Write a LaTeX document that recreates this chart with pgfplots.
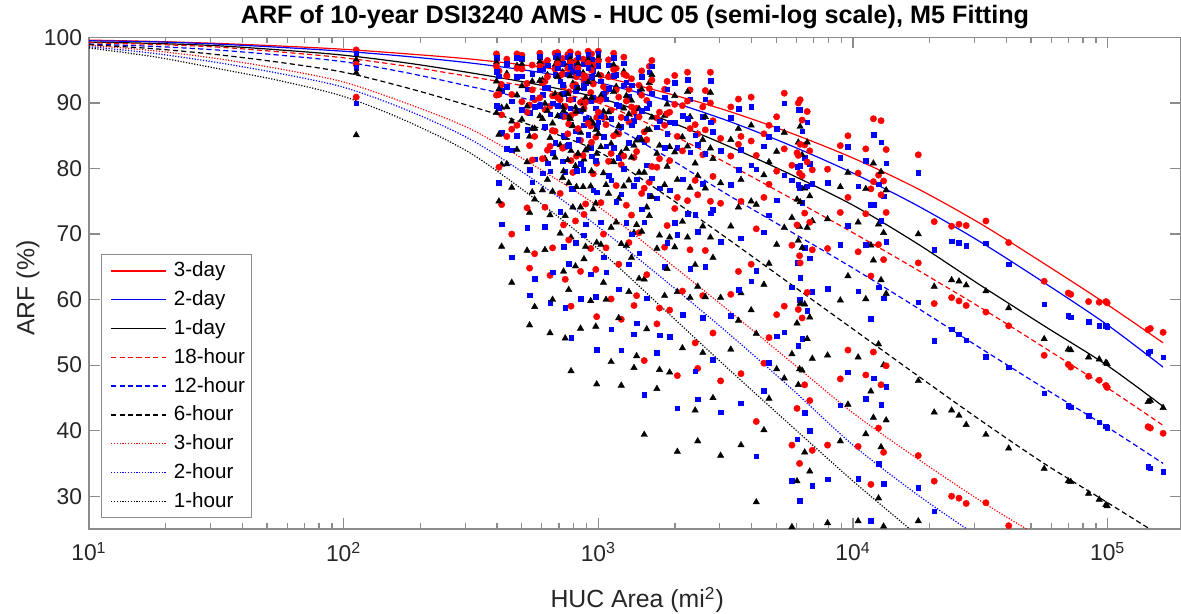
\documentclass[border=0pt]{standalone}
\usepackage{fontspec}
\setmainfont{Liberation Sans}
\usepackage{pgfplots}
\pgfplotsset{compat=1.18}
\usepackage{pgfplotstable}

% columns: a=3-day(red) b=2-day(blue) c=1-day(black) d=18-hour(red) e=12-hour(blue) f=6-hour(black) g=3-hour(red) h=2-hour(blue) i=1-hour(black)
\pgfplotstableread{
x a b c d e f g h i
112 98.1 97.6 96.6 95.9 95.4 94.6 90.9 90.0 85.1
398 97.5 96.9 96.2 95.6 94.8 93.3 91.2 89.6 88.5
407 94.9 94.1 92.1 91.3 89.2 85.2 80.2 77.8 75.0
417 92.8 91.9 89.3 88.2 85.5 80.6 74.5 71.5 68.1
437 96.7 96.0 94.5 94.1 92.5 89.4 84.9 83.0 80.7
457 91.3 90.3 87.2 86.0 82.8 77.1 70.0 66.5 62.6
479 97.5 96.9 95.7 95.3 94.0 91.2 86.6 85.0 82.9
501 97.3 96.8 95.9 95.2 94.1 92.6 90.2 89.0 87.5
525 93.0 92.1 89.5 88.6 85.9 81.0 74.0 71.0 67.5
537 89.7 88.5 84.9 83.5 79.8 73.3 64.8 60.7 56.1
550 95.8 94.5 93.3 92.0 90.9 86.1 81.3 77.9 76.4
562 90.5 89.4 86.1 84.9 81.4 75.3 67.0 63.2 58.9
589 97.6 97.1 96.3 95.6 95.0 93.4 90.8 89.6 88.0
603 96.0 95.2 93.5 93.1 91.3 87.6 81.5 79.3 76.7
617 93.3 92.3 89.9 89.0 86.4 81.5 74.1 71.1 67.6
631 96.5 95.8 94.3 94.0 92.3 88.8 82.8 80.8 78.3
646 89.5 88.3 84.7 83.4 79.6 72.9 63.7 59.5 54.9
661 91.1 90.0 86.9 85.8 82.4 76.5 67.9 64.2 60.0
676 97.6 97.0 95.8 95.2 94.3 91.4 85.7 83.9 81.7
692 97.7 97.2 96.6 96.0 95.3 94.0 90.8 89.6 88.0
708 94.2 93.3 91.2 90.5 88.1 83.6 76.2 73.4 70.1
724 96.8 96.0 94.7 94.4 92.8 89.4 83.1 81.1 78.6
730 92.5 91.4 88.8 87.9 85.0 79.6 71.4 68.1 64.3
741 89.5 88.3 84.7 83.3 79.5 72.8 63.1 58.8 54.1
759 97.4 97.0 95.8 95.3 94.4 91.4 85.3 83.5 81.3
765 91.7 90.6 87.8 86.8 83.6 77.8 69.1 65.5 61.5
776 97.8 97.3 96.7 96.2 95.5 94.1 90.5 89.2 87.6
781 88.1 86.7 82.7 81.2 76.9 69.5 59.0 54.2 49.1
794 95.6 94.8 93.0 92.6 90.6 86.5 79.4 76.9 74.1
813 92.8 91.8 89.3 88.5 85.7 80.4 72.0 68.7 65.1
820 96.5 95.7 94.3 94.0 92.3 88.7 81.9 79.7 77.2
832 97.5 97.0 96.0 95.3 94.6 92.3 86.1 84.4 82.3
851 90.1 88.9 85.5 84.3 80.7 74.1 64.3 60.1 55.6
871 96.7 95.9 94.6 94.2 92.6 89.0 82.0 79.8 77.2
878 93.4 92.3 90.0 89.2 86.6 81.4 73.0 69.8 66.2
891 94.0 93.0 90.8 90.1 87.6 82.8 74.6 71.5 68.1
912 97.9 97.4 96.6 96.1 95.4 93.2 86.9 85.2 83.2
933 91.6 90.4 87.4 86.5 83.2 77.3 67.8 63.9 59.8
940 97.5 96.7 95.5 95.0 94.0 90.8 84.0 81.9 79.6
955 95.8 94.9 93.3 92.9 90.9 86.9 79.2 76.7 73.8
977 90.5 89.2 85.9 84.8 81.2 74.7 64.6 60.4 55.9
985 87.8 86.4 82.3 80.8 76.4 68.7 57.4 52.4 47.1
1000 97.9 97.5 96.9 96.4 95.7 94.3 88.6 87.1 85.3
1023 94.2 93.3 91.1 90.5 88.1 83.3 74.8 71.8 68.4
1047 92.5 91.4 88.7 87.8 84.9 79.3 70.0 66.5 62.6
1072 91.7 90.6 87.7 86.7 83.4 77.5 67.9 64.2 60.0
1096 96.6 95.8 94.3 94.0 92.2 88.6 81.1 78.9 76.2
1122 88.9 87.6 83.8 82.3 78.2 71.0 60.1 55.5 50.5
1148 97.6 96.9 95.8 95.1 94.2 91.7 85.0 83.2 81.0
1175 95.3 94.3 92.5 92.0 89.8 85.5 77.4 74.9 71.8
1202 90.9 89.6 86.5 85.3 81.7 75.4 65.4 61.6 57.2
1230 87.8 86.4 82.4 80.6 76.1 68.5 57.0 52.3 46.9
1259 97.0 96.1 94.8 94.4 92.7 89.2 81.9 80.0 77.3
1288 94.2 93.2 91.1 90.3 87.7 83.0 74.4 71.7 68.2
1318 92.1 91.0 88.3 87.1 83.9 78.2 68.7 65.4 61.2
1349 93.7 92.7 90.4 89.4 86.6 81.7 72.9 70.0 66.4
1380 88.6 87.3 83.5 81.7 77.4 70.2 59.1 54.7 49.6
1413 89.2 87.9 84.3 82.6 78.4 71.4 60.6 56.4 51.4
1445 92.7 91.7 89.1 87.9 84.8 79.4 70.2 67.1 63.2
1479 94.9 94.0 92.1 91.2 88.8 84.4 76.2 73.8 70.4
1514 85.6 84.1 79.4 77.0 71.8 63.1 50.7 45.5 39.4
1549 90.4 89.2 85.9 84.4 80.5 74.1 63.8 60.2 55.5
1585 95.6 94.7 93.1 92.2 89.9 85.9 77.9 75.9 72.8
1622 96.5 95.6 94.3 93.5 91.5 87.8 80.3 78.5 75.7
1698 87.7 86.3 82.3 80.2 75.5 67.8 56.3 51.9 46.4
1738 88.6 87.2 83.5 81.5 77.0 69.8 58.7 54.6 49.3
1820 92.1 90.9 88.1 86.6 83.2 77.5 68.0 65.0 60.6
1862 93.3 92.1 89.8 88.4 85.3 80.3 71.3 68.7 64.7
1905 88.6 87.1 83.3 81.2 76.7 69.5 58.4 54.3 48.9
1995 94.2 93.1 91.1 89.8 87.0 82.5 73.9 71.7 68.0
2042 84.9 83.2 78.3 75.6 69.9 61.2 48.4 43.4 36.8
2138 89.6 88.1 84.8 82.7 78.4 71.9 61.3 57.7 52.6
2239 94.7 93.6 91.7 90.3 87.6 83.4 75.1 73.1 69.5
2291 92.0 90.6 87.9 86.1 82.5 77.1 67.6 64.7 60.3
2399 86.7 85.1 80.8 78.2 73.0 65.3 53.4 49.1 43.1
2455 85.3 83.6 78.9 76.0 70.4 62.0 49.5 44.8 38.4
2570 89.4 87.9 84.4 82.1 77.7 71.2 60.6 57.2 51.9
2630 91.9 90.6 87.9 85.9 82.3 77.0 67.5 65.0 60.4
2754 94.7 93.4 91.6 90.0 87.1 83.1 75.0 73.2 69.5
2818 87.3 85.6 81.5 78.8 73.7 66.4 54.9 50.8 45.0
3020 84.6 82.7 77.8 74.7 68.8 60.3 47.6 42.8 36.2
3311 89.4 87.8 84.4 81.9 77.5 71.2 60.8 57.5 52.4
3548 90.6 89.1 86.1 83.7 79.8 74.1 64.3 61.5 56.8
3631 84.9 82.9 78.3 75.0 69.4 61.0 48.7 44.2 37.8
3981 90.9 89.4 86.6 84.2 80.5 75.0 65.4 62.8 58.4
4169 82.0 79.9 74.5 70.8 64.4 54.8 41.4 36.1 29.1
4467 85.3 83.4 79.0 75.6 70.3 62.3 50.3 46.1 40.1
4677 86.6 84.9 81.0 77.6 72.9 65.5 54.2 50.4 44.9
5012 87.9 86.1 82.6 79.6 75.2 68.4 57.7 54.4 49.4
5370 91.5 90.0 85.5 83.0 79.0 71.0 59.0 55.0 48.0
5754 80.5 78.2 72.5 68.3 61.9 51.7 37.8 32.4 25.3
6026 82.4 80.3 75.3 71.4 65.6 56.4 43.4 38.7 32.3
6095 90.0 89.0 84.0 82.0 77.5 69.0 58.5 53.0 47.0
6166 79.3 77.1 71.1 66.7 60.0 49.4 35.0 29.3 nan
6200 90.5 89.0 86.4 83.7 80.4 74.9 65.6 63.3 59.4
6310 87.4 85.7 82.1 78.9 74.8 67.9 57.2 54.0 49.2
6457 83.6 81.7 77.0 73.2 67.9 59.3 47.0 42.7 36.7
6607 88.7 87.1 84.0 81.0 77.3 71.0 61.1 58.3 54.0
6761 82.7 80.7 75.8 71.8 66.3 57.3 44.6 40.0 33.8
6918 79.8 77.7 72.0 67.6 61.2 51.0 37.0 31.6 nan
7943 79.9 77.8 72.3 67.8 61.7 51.5 37.8 32.6 25.9
8913 83.5 81.7 77.2 73.3 68.4 59.9 47.9 43.9 38.4
9550 85.0 83.3 79.4 75.6 71.3 63.6 52.3 48.9 44.0
10470 79.3 77.3 71.8 67.3 61.3 51.2 37.6 32.7 26.2
11220 83.0 81.2 76.9 73.1 68.4 60.1 48.5 44.9 39.5
11750 76.9 74.5 68.3 63.6 57.1 46.0 31.8 26.3 nan
12020 87.6 85.2 80.8 78.0 74.5 66.0 52.0 48.0 42.0
12590 79.0 77.6 71.5 68.4 61.9 53.2 40.4 35.0 29.7
12880 87.3 84.0 79.5 76.0 72.0 63.0 47.0 44.0 37.5
13180 78.1 75.8 70.2 66.1 60.2 50.0 36.7 31.9 25.4
13490 82.9 80.8 76.7 73.3 68.8 60.9 49.9 46.7 41.6
18040 82.1 79.4 70.0 65.6 59.6 47.6 36.2 31.3 26.2
20830 71.9 67.6 62.0 59.4 53.7 42.8 32.3 27.7 nan
24380 71.2 68.9 63.0 60.3 55.5 43.1 30.0 nan nan
26060 71.5 68.7 62.8 59.8 54.7 42.3 29.7 nan nan
27810 71.3 68.2 62.2 59.1 53.8 40.9 28.9 nan nan
33240 72.0 68.6 61.3 58.1 51.3 39.4 29.0 nan nan
40840 68.7 65.4 58.7 56.0 49.7 37.3 25.5 nan nan
56300 62.8 59.3 54.0 51.5 45.7 34.2 nan nan nan
70000 61.0 57.5 52.4 50.1 43.8 32.3 nan nan nan
71600 60.8 57.3 52.3 49.7 43.6 32.2 nan nan nan
84100 59.7 56.6 51.2 48.3 42.3 30.4 nan nan nan
92600 59.6 56.0 50.9 47.7 41.3 29.5 nan nan nan
98400 59.7 56.0 50.4 46.9 40.7 28.7 nan nan nan
99500 59.5 55.9 50.2 46.6 40.5 28.5 nan nan nan
144000 55.4 51.9 44.4 40.6 34.5 nan nan nan nan
147000 55.6 52.1 44.6 40.4 34.3 nan nan nan nan
165000 55.0 51.2 43.5 39.6 33.7 nan nan nan nan
}\huc

\begin{document}
\begin{tikzpicture}
\begin{axis}[
  scale only axis, width=546pt, height=245.75pt,
  xmode=log, log basis x=10,
  xmin=10, xmax=1.94e5, ymin=25, ymax=100,
  xtick={10,100,1000,10000,100000},
  xticklabels={10\textsuperscript{1},10\textsuperscript{2},10\textsuperscript{3},10\textsuperscript{4},10\textsuperscript{5}},
  minor xtick={20,30,40,50,60,70,80,90,200,300,400,500,600,700,800,900,2000,3000,4000,5000,6000,7000,8000,9000,20000,30000,40000,50000,60000,70000,80000,90000},
  ytick={30,40,50,60,70,80,90,100},
  yticklabels={30,40,50,60,70,80,90,100},
  tick align=inside,
  major tick length=5.5pt, minor tick length=3pt,
  axis line style={draw=black!45, line width=0.6pt},
  every tick/.style={draw=black!45, line width=0.6pt},
  tick label style={font=\fontsize{11.4}{13}\selectfont, text=black!85},
  xticklabel style={yshift=-3pt},
  xlabel={HUC Area (mi\textsuperscript{2})},
  xlabel style={font=\fontsize{12.4}{14}\selectfont, text=black!85, at={(axis description cs:0.502,-0.1445)}, anchor=center},
  ylabel={ARF (\%)},
  ylabel style={font=\fontsize{12.4}{14}\selectfont, text=black!85, at={(axis description cs:-0.0559,0.49)}, anchor=center},
  legend cell align=left,
  legend image code/.code={\draw[#1, line width=0.75pt] (0pt,0.3pt) -- (27.5pt,0.3pt);},
  legend style={at={(0.0119,0.5575)}, anchor=north west, draw=none, fill=white,
    font=\fontsize{10.3}{12}\selectfont, inner xsep=4pt, inner ysep=3.25pt, row sep=4.8pt, column sep=3.5pt,
    nodes={inner sep=0pt, text height=7.5pt, text depth=2.1pt}},
  clip=true,
]
% fitted curves
\addplot[draw=red, line width=0.6pt, smooth] coordinates {(10,99.6) (17.78,99.4) (31.62,99.1) (56.23,98.7) (100,98.2) (177.8,97.5) (316.2,96.7) (562.3,95.6) (1000,94.1) (1778,91.7) (3162,88.9) (5623,85.5) (10000,81.6) (17783,77.0) (31623,71.6) (56234,65.5) (100000,59.2) (165000,53.4)};
\addlegendentry{3-day}
\addplot[draw=blue, line width=0.6pt, smooth] coordinates {(10,99.5) (17.78,99.35) (31.62,99.0) (56.23,98.5) (100,97.9) (177.8,97.1) (316.2,96.1) (562.3,94.8) (1000,93.1) (1778,90.6) (3162,87.4) (5623,83.6) (10000,79.3) (17783,74.4) (31623,68.8) (56234,62.6) (100000,56.1) (165000,49.7)};
\addlegendentry{2-day}
\addplot[draw=black, line width=0.6pt, smooth] coordinates {(10,99.3) (17.78,99.1) (31.62,98.75) (56.23,98.1) (100,97.3) (177.8,96.1) (316.2,94.6) (562.3,92.9) (1000,90.8) (1778,87.6) (3162,83.6) (5623,79.2) (10000,74.4) (17783,68.6) (31623,62.2) (56234,56.0) (100000,49.9) (165000,43.7)};
\addlegendentry{1-day}
\addplot[draw=red, line width=0.6pt, smooth, dash pattern=on 2.6pt off 1.6pt] coordinates {(10,99.2) (17.78,98.95) (31.62,98.55) (56.23,97.8) (100,96.9) (177.8,95.6) (316.2,94.0) (562.3,92.3) (1000,90.0) (1778,85.9) (3162,80.9) (5623,75.6) (10000,70.2) (17783,64.6) (31623,58.8) (56234,52.7) (100000,46.5) (165000,40.8)};
\addlegendentry{18-hour}
\addplot[draw=blue, line width=0.6pt, smooth, dash pattern=on 2.6pt off 1.6pt] coordinates {(10,99.0) (17.78,98.65) (31.62,98.1) (56.23,97.3) (100,96.3) (177.8,94.6) (316.2,92.5) (562.3,90.3) (1000,87.5) (1778,82.2) (3162,76.2) (5623,70.5) (10000,64.8) (17783,58.8) (31623,52.6) (56234,46.5) (100000,40.5) (165000,35.0)};
\addlegendentry{12-hour}
\addplot[draw=black, line width=0.6pt, smooth, dash pattern=on 2.6pt off 1.6pt] coordinates {(10,98.9) (17.78,98.3) (31.62,97.4) (56.23,96.2) (100,94.7) (177.8,92.3) (316.2,89.5) (562.3,86.4) (1000,82.6) (1778,76.3) (3162,69.5) (5623,62.5) (10000,55.5) (17783,48.5) (31623,41.6) (56234,35.0) (100000,29.0) (146218,25.0)};
\addlegendentry{6-hour}
\addplot[draw=red, line width=0.6pt, smooth, dash pattern=on 0.6pt off 0.8pt] coordinates {(10,98.8) (17.78,98.0) (31.62,96.8) (56.23,95.2) (100,93.2) (177.8,89.9) (316.2,86.0) (562.3,80.4) (1000,74.2) (1778,66.5) (3162,58.7) (5623,50.7) (10000,42.7) (17783,35.8) (31623,29.3) (48000,25.0)};
\addlegendentry{3-hour}
\addplot[draw=blue, line width=0.6pt, smooth, dash pattern=on 0.6pt off 0.8pt] coordinates {(10,98.6) (17.78,97.6) (31.62,96.2) (56.23,94.5) (100,92.4) (177.8,88.9) (316.2,84.4) (562.3,78.2) (1000,71.1) (1778,63.3) (3162,55.2) (5623,46.7) (10000,37.8) (17783,30.3) (27990,25.0)};
\addlegendentry{2-hour}
\addplot[draw=black, line width=0.6pt, smooth, dash pattern=on 0.6pt off 0.8pt] coordinates {(10,98.4) (17.78,97.1) (31.62,95.3) (56.23,93.4) (100,91.0) (177.8,87.2) (316.2,82.3) (562.3,75.4) (1000,67.7) (1778,58.8) (3162,49.8) (5623,41.0) (10000,32.3) (16711,25.0)};
\addlegendentry{1-hour}
% observed ARFs
\pgfplotsset{
  redpts/.style={only marks, forget plot, mark=*, mark size=1.6pt, mark options={draw=red, fill=red, line width=0.2pt}},
  bluepts/.style={only marks, forget plot, mark=square*, mark size=1.15pt, mark options={draw=blue, fill=blue, line width=0.2pt}},
  blackpts/.style={only marks, forget plot, mark=triangle*, mark size=1.85pt, mark options={draw=black, fill=black, line width=0.2pt}},
}
\addplot[redpts] table[x=x,y=a]{\huc};
\addplot[bluepts] table[x=x,y=b]{\huc};
\addplot[blackpts] table[x=x,y=c]{\huc};
\addplot[redpts] table[x=x,y=d]{\huc};
\addplot[bluepts] table[x=x,y=e]{\huc};
\addplot[blackpts] table[x=x,y=f]{\huc};
\addplot[redpts] table[x=x,y=g]{\huc};
\addplot[bluepts] table[x=x,y=h]{\huc};
\addplot[blackpts] table[x=x,y=i]{\huc};
\end{axis}
\draw[black!45, line width=0.5pt] ([xshift=0.0119*546pt, yshift=0.5575*245.75pt]current axis.south west) ++(0,0) rectangle ++(74.5pt,-131.3pt);
\node[font=\fontsize{12.6}{14}\selectfont\bfseries, anchor=base, inner sep=0pt] at ([yshift=6.75pt]current axis.north) {ARF of 10-year DSI3240 AMS - HUC 05 (semi-log scale), M5 Fitting};
\pgfresetboundingbox
\path[use as bounding box] ([xshift=-44.5pt,yshift=-42.5pt]current axis.south west) rectangle ([yshift=18.75pt]current axis.north east);
\end{tikzpicture}
\end{document}
